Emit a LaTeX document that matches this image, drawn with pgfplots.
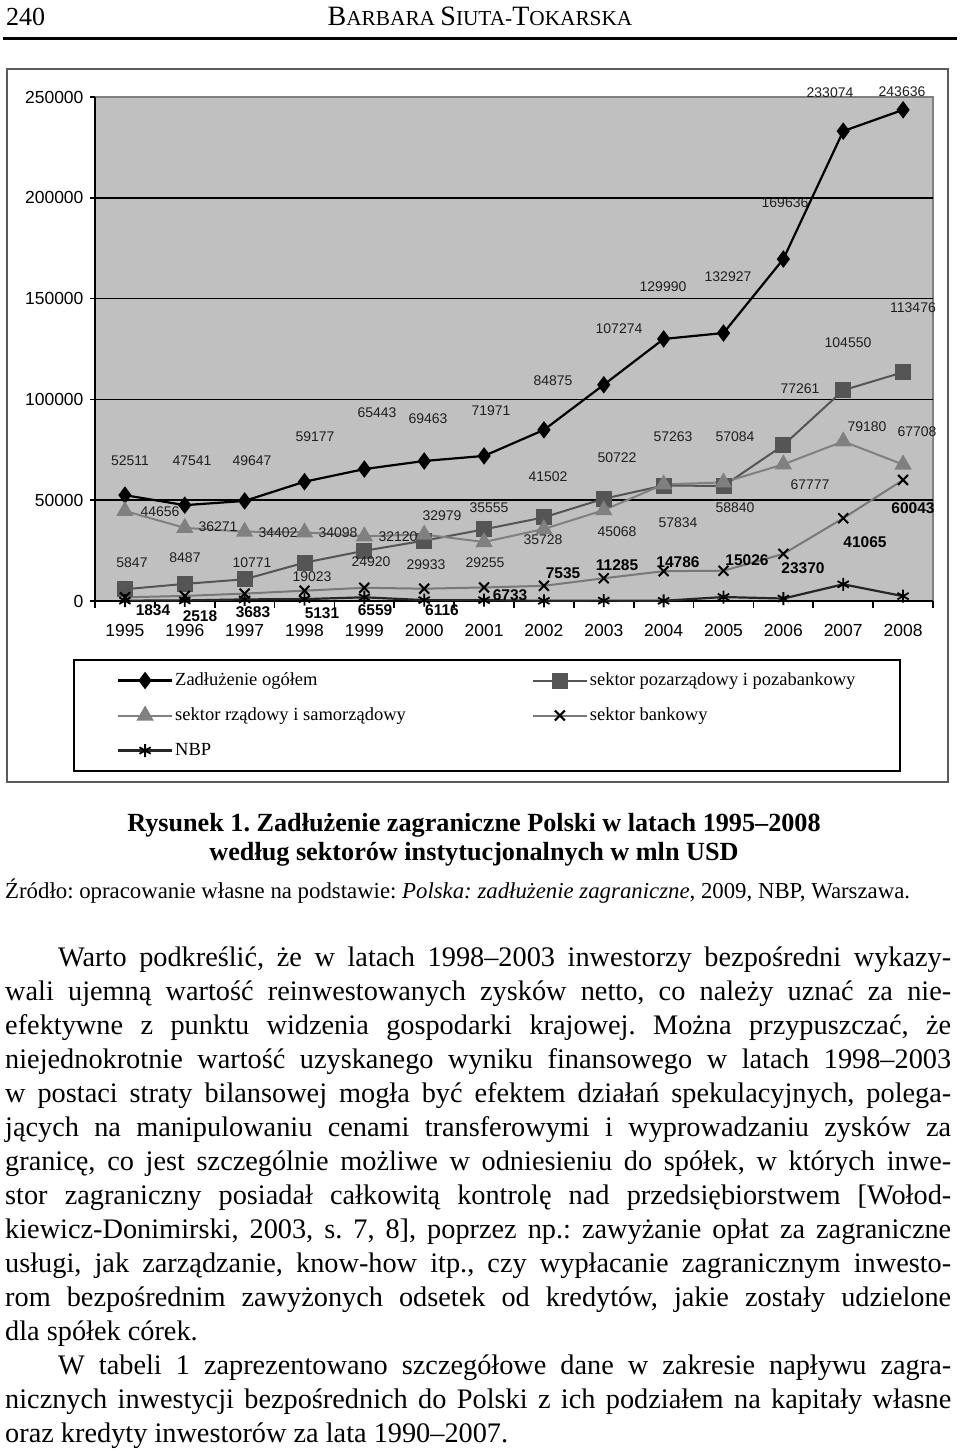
\documentclass[border=0pt]{standalone}
\usepackage{fontspec}
\setmainfont{Liberation Serif}
\setsansfont{Liberation Sans}
\usepackage{pgfplots}
\pgfplotsset{compat=1.18}
\frenchspacing

\definecolor{plotbg}{RGB}{192,192,192}
\definecolor{sqgray}{RGB}{85,85,85}
\definecolor{trigray}{RGB}{128,128,128}
\definecolor{bankgray}{RGB}{120,120,120}
\definecolor{framegray}{RGB}{90,90,90}

% data labels placed where the scan has them
\newcommand{\lab}[3]{\node[font=\fontsize{14}{14}\selectfont\sffamily, text=black!88] at (#1,-#2) {#3};}
\newcommand{\blab}[3]{\node[font=\fontsize{15.5}{15.5}\selectfont\sffamily\bfseries] at (#1,-#2) {#3};}
% body text: one node per line, justified to a width
\newcommand{\body}{\fontsize{28.3}{34}\selectfont}
\newcommand{\jl}[4]{\node[anchor=base west, inner sep=0pt, font=\body] at (#1,-#2) {\makebox[#3pt][s]{#4}};}
\newcommand{\lastl}[3]{\node[anchor=base west, inner sep=0pt, font=\body] at (#1,-#2) {#3};}

\begin{document}
\begin{tikzpicture}[x=1pt,y=1pt]
\path (0,0) rectangle (960,-1453);

% running head
\node[anchor=base west, inner sep=0pt, font=\fontsize{26}{26}\selectfont] at (6,-26) {240};
\node[anchor=base, inner sep=0pt] at (480,-26) {\fontsize{28}{28}\selectfont B\fontsize{21.3}{21.3}\selectfont ARBARA \fontsize{28}{28}\selectfont S\fontsize{21.3}{21.3}\selectfont IUTA-\fontsize{28}{28}\selectfont T\fontsize{21.3}{21.3}\selectfont OKARSKA};
\draw[line width=2.5pt] (3,-38.5) -- (957,-38.5);

% chart frame
\draw[framegray, line width=1.5pt, fill=white] (7,-69) rectangle (948,-782);

\begin{axis}[
  at={(95pt,-601pt)}, anchor=south west,
  scale only axis, width=838pt, height=504pt,
  xmin=-0.5, xmax=13.5, ymin=0, ymax=250000,
  clip=false,
  axis line style={draw=none},
  axis background/.style={fill=plotbg},
  xtick={0,...,13},
  xticklabels={1995,1996,1997,1998,1999,2000,2001,2002,2003,2004,2005,2006,2007,2008},
  minor xtick={-0.5,0.5,...,13.5},
  ytick={0,50000,100000,150000,200000,250000},
  yticklabels={0,50000,100000,150000,200000,250000},
  xtick pos=bottom, ytick pos=left,
  tick align=outside,
  major tick length=5pt, minor tick length=7pt,
  major x tick style={draw=none},
  minor x tick style={black, line width=1.6pt},
  major y tick style={black, line width=1.6pt},
  scaled y ticks=false,
  tick label style={font=\fontsize{17.5}{17.5}\selectfont\sffamily, black},
  yticklabel style={xshift=-3pt},
  xticklabel style={yshift=-15pt},
  legend columns=2,
  legend cell align=left,
  legend style={
    at={(-0.02625,-0.1151)}, anchor=north west,
    draw=black, line width=2pt, fill=white,
    inner xsep=43pt, inner ysep=9.5pt,
    font=\fontsize{18.5}{18.5}\selectfont,
    row sep=13pt, column sep=0pt,
    nodes={inner sep=2pt, text height=14pt, text depth=4pt},
    /tikz/every even column/.append style={column sep=124pt},
  },
  legend image code/.code={
    \draw[mark repeat=2, mark phase=2, #1] plot coordinates {(0pt,0pt) (27pt,0pt) (54pt,0pt)};
  },
]
% plot frame and grid
\draw[trigray, line width=1.5pt] (rel axis cs:0,1) -- (rel axis cs:1,1) -- (rel axis cs:1,0);
\pgfplotsinvokeforeach{50000,100000,150000,200000}{
  \draw[black, line width=1.6pt] (axis cs:-0.5,#1) -- (axis cs:13.5,#1);
}
\draw[black, line width=2pt] (rel axis cs:0,1) -- (rel axis cs:0,0) -- (rel axis cs:1,0);

\addplot[black, line width=2.2pt, mark=diamond*, mark size=7pt, mark options={solid, fill=black}]
  coordinates {(0,52511) (1,47541) (2,49647) (3,59177) (4,65443) (5,69463) (6,71971)
               (7,84875) (8,107274) (9,129990) (10,132927) (11,169636) (12,233074) (13,243636)};
\addlegendentry{Zadłużenie ogółem}

\addplot[sqgray, line width=2pt, mark=square*, mark size=7pt, mark options={solid, fill=sqgray}]
  coordinates {(0,5847) (1,8487) (2,10771) (3,19023) (4,24920) (5,29933) (6,35555)
               (7,41502) (8,50722) (9,57263) (10,57084) (11,77261) (12,104550) (13,113476)};
\addlegendentry{sektor pozarządowy i pozabankowy}

\addplot[trigray, line width=2pt, mark=triangle*, mark size=8pt, mark options={solid, fill=trigray}]
  coordinates {(0,44656) (1,36271) (2,34402) (3,34098) (4,32120) (5,32979) (6,29255)
               (7,35728) (8,45068) (9,57834) (10,58840) (11,67777) (12,79180) (13,67708)};
\addlegendentry{sektor rządowy i samorządowy}

\addplot[bankgray, line width=2pt, mark=x, mark size=7pt, mark options={solid, black, line width=2pt}]
  coordinates {(0,1834) (1,2518) (2,3683) (3,5131) (4,6559) (5,6116) (6,6733)
               (7,7535) (8,11285) (9,14786) (10,15026) (11,23370) (12,41065) (13,60043)};
\addlegendentry{sektor bankowy}

\addplot[black!85, line width=2.2pt, mark=asterisk, mark size=6.5pt, mark options={solid, black, line width=1.8pt}]
  coordinates {(0,174) (1,265) (2,791) (3,925) (4,1844) (5,435) (6,428)
               (7,110) (8,199) (9,107) (10,1977) (11,1228) (12,8279) (13,2409)};
\addlegendentry{NBP}
\end{axis}

% value labels: total
\lab{130}{461}{52511}  \lab{192}{461}{47541}  \lab{252}{461}{49647}
\lab{315}{437}{59177}  \lab{377}{413}{65443}  \lab{428}{419}{69463}
\lab{491}{411}{71971}  \lab{553}{381}{84875}  \lab{619}{329}{107274}
\lab{663}{287}{129990} \lab{728}{277}{132927} \lab{785}{203}{169636}
\lab{830}{93}{233074}  \lab{902}{92}{243636}
% non-government, non-bank
\lab{132}{563}{5847}   \lab{185}{558}{8487}   \lab{252}{563}{10771}
\lab{312}{577}{19023}  \lab{371}{562}{24920}  \lab{426}{565}{29933}
\lab{489}{508}{35555}  \lab{548}{477}{41502}  \lab{617}{458}{50722}
\lab{673}{437}{57263}  \lab{735}{437}{57084}  \lab{800}{389}{77261}
\lab{848}{343}{104550} \lab{913}{308}{113476}
% government
\lab{160}{512}{44656}  \lab{218}{527}{36271}  \lab{278}{533}{34402}
\lab{338}{533}{34098}  \lab{398}{537}{32120}  \lab{442}{516}{32979}
\lab{485}{563}{29255}  \lab{543}{540}{35728}  \lab{617}{532}{45068}
\lab{678}{523}{57834}  \lab{735}{508}{58840}  \lab{810}{485}{67777}
\lab{867}{427}{79180}  \lab{917}{432}{67708}
% banks
\blab{153}{610}{1834}  \blab{200}{616}{2518}  \blab{253}{612}{3683}
\blab{322}{613}{5131}  \blab{375}{610}{6559}  \blab{442}{610}{6116}
\blab{510}{595}{6733}  \blab{563}{573}{7535}  \blab{617}{565}{11285}
\blab{678}{562}{14786} \blab{747}{560}{15026} \blab{803}{568}{23370}
\blab{865}{542}{41065} \blab{913}{508}{60043}

% caption and source
\node[anchor=base, inner sep=0pt, font=\fontsize{26.2}{29}\selectfont\bfseries] at (474,-831) {Rysunek 1. Zadłużenie zagraniczne Polski w latach 1995–2008};
\node[anchor=base, inner sep=0pt, font=\fontsize{26.2}{29}\selectfont\bfseries] at (474,-860) {według sektorów instytucjonalnych w mln USD};
\node[anchor=base west, inner sep=0pt, font=\fontsize{22.8}{27}\selectfont] at (5,-898) {Źródło: opracowanie własne na podstawie: \textit{Polska: zadłużenie zagraniczne}, 2009, NBP, Warszawa.};

% body text
\jl{58}{966}{893}{Warto podkreślić, że w latach 1998–2003 inwestorzy bezpośredni wykazy-}
\jl{5}{1000}{946}{wali ujemną wartość reinwestowanych zysków netto, co należy uznać za nie-}
\jl{5}{1034}{946}{efektywne z punktu widzenia gospodarki krajowej. Można przypuszczać, że}
\jl{5}{1068}{946}{niejednokrotnie wartość uzyskanego wyniku finansowego w latach 1998–2003}
\jl{5}{1102}{946}{w postaci straty bilansowej mogła być efektem działań spekulacyjnych, polega-}
\jl{5}{1136}{946}{jących na manipulowaniu cenami transferowymi i wyprowadzaniu zysków za}
\jl{5}{1170}{946}{granicę, co jest szczególnie możliwe w odniesieniu do spółek, w których inwe-}
\jl{5}{1204}{946}{stor zagraniczny posiadał całkowitą kontrolę nad przedsiębiorstwem [Wołod-}
\jl{5}{1238}{946}{kiewicz-Donimirski, 2003, s. 7, 8], poprzez np.: zawyżanie opłat za zagraniczne}
\jl{5}{1272}{946}{usługi, jak zarządzanie, know-how itp., czy wypłacanie zagranicznym inwesto-}
\jl{5}{1306}{946}{rom bezpośrednim zawyżonych odsetek od kredytów, jakie zostały udzielone}
\lastl{5}{1340}{dla spółek córek.}
\jl{58}{1374}{893}{W tabeli 1 zaprezentowano szczegółowe dane w zakresie napływu zagra-}
\jl{5}{1408}{946}{nicznych inwestycji bezpośrednich do Polski z ich podziałem na kapitały własne}
\lastl{5}{1442}{oraz kredyty inwestorów za lata 1990–2007.}
\end{tikzpicture}
\end{document}
